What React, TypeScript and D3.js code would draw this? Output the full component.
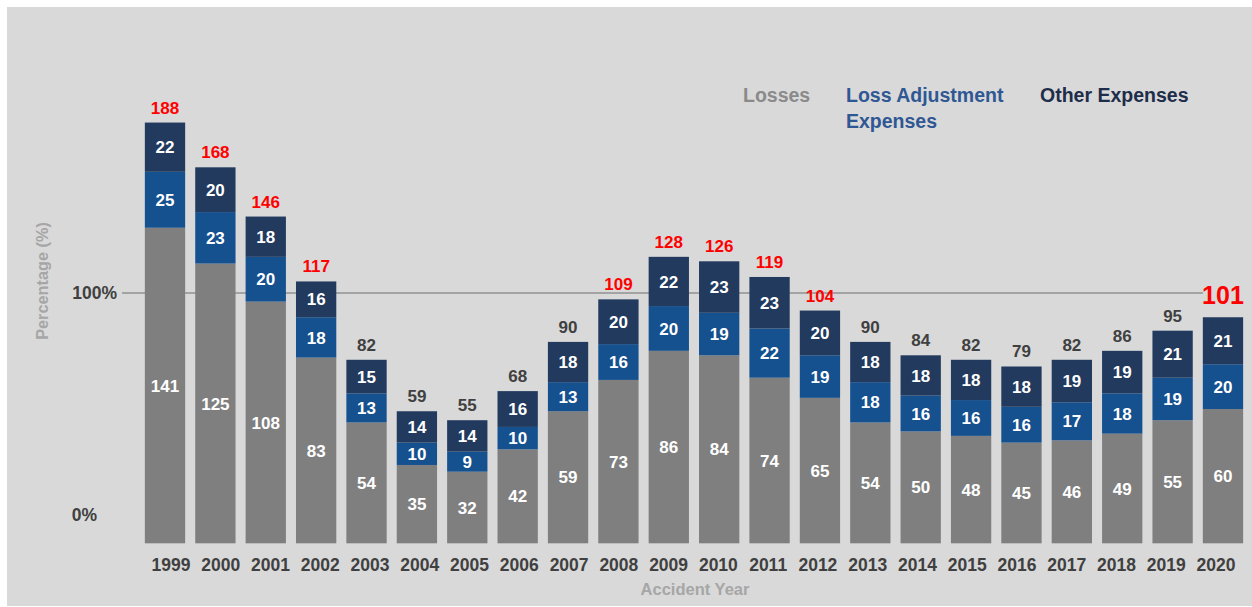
import React from "react";
import * as d3 from "d3";

const years = ["1999","2000","2001","2002","2003","2004","2005","2006","2007","2008","2009","2010","2011","2012","2013","2014","2015","2016","2017","2018","2019","2020"];
const losses = [141,125,108,83,54,35,32,42,59,73,86,84,74,65,54,50,48,45,46,49,55,60];
const lae = [25,23,20,18,13,10,9,10,13,16,20,19,22,19,18,16,16,16,17,18,19,20];
const otherExp = [22,20,18,16,15,14,14,16,18,20,22,23,23,20,18,18,18,18,19,19,21,21];
const totals = [188,168,146,117,82,59,55,68,90,109,128,126,119,104,90,84,82,79,82,86,95,101];
const yTicks = [0, 100];
const highlightYear = "2020";

const seriesKeys = ["losses", "lae", "other"];
const seriesNames = ["Losses", "Loss Adjustment\nExpenses", "Other Expenses"];
const seriesColors = ["#7f7f7f", "#15508f", "#213a5e"];
const legendColors = ["#8a8a8a", "#2f5793", "#1d2d4a"];

const W = 1252, H = 607;
const FONT = "'Liberation Sans', Arial, Helvetica, sans-serif";

export default function App() {
  const rows = years.map((y, i) => ({ year: y, losses: losses[i], lae: lae[i], other: otherExp[i], total: totals[i] }));
  const stack = d3.stack<any>().keys(seriesKeys)(rows);

  const step = 50.38;
  const x = d3.scaleBand().domain(years).range([165 - step / 2, 165 - step / 2 + step * years.length]).paddingInner(0.2).paddingOuter(0.1);
  const xLab = d3.scalePoint().domain(years).range([171, 1216]);
  const y = d3.scaleLinear().domain([0, 188]).range([543.3, 543.3 - 188 * 2.238]);
  const yAxis = d3.scaleLinear().domain([0, 100]).range([515, 293]);

  const lastX = x(years[years.length - 1])!;

  return (
    <svg width={W} height={H} style={{ position: "absolute", left: 0, top: 0 }} fontFamily={FONT}>
      <rect x={7} y={7} width={W - 7} height={H - 8} fill="#d9d9d9" />
      {/* 100% reference line */}
      <line x1={122} x2={lastX} y1={yAxis(100)} y2={yAxis(100)} stroke="#a3a3a3" strokeWidth={2} />
      {/* y tick labels */}
      {yTicks.map((t) => (
        <text key={t} x={t === 100 ? 117 : 97} y={yAxis(t)} dy="0.35em" textAnchor="end" fontSize={17.5} fontWeight="bold" fill="#404040">{t}%</text>
      ))}
      <text transform={`translate(48,281) rotate(-90)`} textAnchor="middle" fontSize={16.3} fontWeight="bold" fill="#a6a6a6">Percentage (%)</text>

      {/* bars */}
      {stack.map((s, si) => (
        <g key={s.key}>
          {s.map((d, i) => {
            const y0 = y(d[0]), y1 = y(d[1]);
            const v = d[1] - d[0];
            return (
              <g key={i}>
                <rect x={x(years[i])} y={y1} width={x.bandwidth()} height={y0 - y1} fill={seriesColors[si]} />
                <text x={x(years[i])! + x.bandwidth() / 2} y={(y0 + y1) / 2} dy="0.36em" textAnchor="middle" fontSize={17} fontWeight="bold" fill="#ffffff">{v}</text>
              </g>
            );
          })}
        </g>
      ))}

      {/* totals */}
      {rows.map((r, i) => {
        const big = r.year === highlightYear;
        const cx = x(r.year)! + x.bandwidth() / 2;
        return (
          <text key={r.year} x={cx} y={y(r.total) - (big ? 13 : 9)} textAnchor="middle" fontSize={big ? 25 : 17} fontWeight="bold" fill={r.total >= 100 ? "#ff0000" : "#404040"}>{r.total}</text>
        );
      })}

      {/* x labels */}
      {years.map((yr) => (
        <text key={yr} x={xLab(yr)} y={570.5} textAnchor="middle" fontSize={17.5} fontWeight="bold" fill="#404040">{yr}</text>
      ))}
      <text x={695} y={595} textAnchor="middle" fontSize={16.5} fontWeight="bold" fill="#a6a6a6">Accident Year</text>

      {/* legend */}
      {seriesNames.map((n, i) => {
        const lx = [743, 846, 1040][i];
        return (
          <text key={n} x={lx} y={101.5} fontSize={19.5} fontWeight="bold" fill={legendColors[i]}>
            {n.split("\n").map((line, li) => (
              <tspan key={li} x={lx} dy={li === 0 ? 0 : 26.5}>{line}</tspan>
            ))}
          </text>
        );
      })}
    </svg>
  );
}
